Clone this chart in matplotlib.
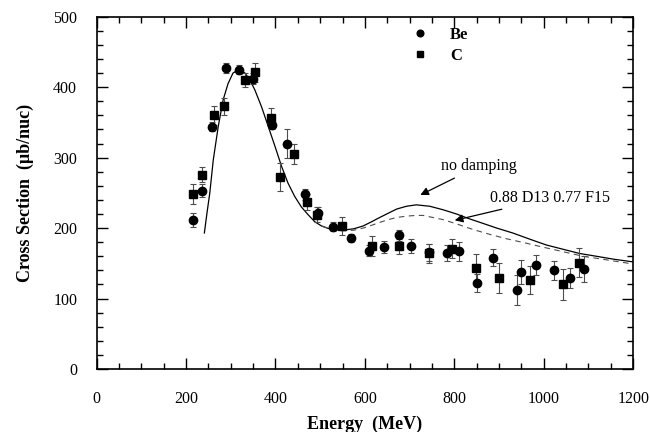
import matplotlib
matplotlib.use("Agg")
import matplotlib.pyplot as plt
from matplotlib.ticker import MultipleLocator

plt.rcParams["font.family"] = ["Liberation Serif", "DejaVu Serif"]

# Be (circles): energy, cross section, error
be_e = [215, 235, 258, 290, 319, 349, 393, 425, 466, 495, 528, 570, 609, 643,
        676, 703, 743, 784, 811, 850, 887, 941, 950, 983, 1022, 1058, 1090]
be_xs = [212, 253, 344, 427, 425, 412, 346, 320, 248, 222, 202, 186, 168, 173,
         190, 175, 166, 165, 167, 122, 158, 112, 138, 148, 140, 129, 142]
be_err = [10, 9, 6, 7, 6, 8, 6, 21, 8, 8, 6, 6, 8, 8,
          8, 10, 12, 11, 13, 13, 12, 21, 17, 14, 14, 14, 19]

# C (squares)
c_e = [215, 235, 263, 284, 333, 355, 390, 410, 441, 470, 493, 548, 617, 676,
       743, 794, 849, 900, 969, 1044, 1078]
c_xs = [248, 276, 360, 373, 410, 421, 356, 272, 305, 237, 219, 203, 175, 174,
        164, 171, 144, 129, 126, 120, 151]
c_err = [14, 11, 13, 12, 10, 14, 14, 20, 14, 11, 11, 13, 14, 11,
         13, 13, 19, 21, 20, 22, 21]

# model curves
nodamp_e = [241, 247, 253, 261, 272, 283, 294, 305, 318, 332, 343, 354, 369,
            384, 399, 414, 428, 443, 458, 473, 488, 503, 525, 550, 575, 596,
            615, 633, 652, 671, 693, 715, 730, 745, 775, 805, 830, 858, 895,
            931, 970, 1006, 1043, 1080, 1118, 1155, 1200]
nodamp_xs = [193, 222, 249, 297, 344, 382, 405, 420, 425, 420, 410, 396, 372,
             344, 316, 287, 264, 245, 230, 219, 209, 203, 198, 197, 199, 203,
             209, 215, 221, 227, 231, 233, 232, 231, 226, 220, 214, 208, 200,
             193, 184, 176, 170, 164, 160, 156, 152]

damp_e = [503, 525, 550, 575, 596, 615, 633, 652, 671, 693, 715, 730, 745,
          775, 805, 842, 880, 916, 958, 998, 1040, 1088, 1140, 1200]
damp_xs = [203, 198, 196, 197, 200, 204, 208, 212, 215, 217, 218, 218, 216,
           212, 206, 198, 191, 185, 179, 173, 167, 160, 155, 149]

fig = plt.figure(figsize=(6.5, 4.32), dpi=100)
ax = fig.add_axes([0.1486, 0.1458, 0.8255, 0.8155])

ax.plot(nodamp_e, nodamp_xs, "-", color="black", lw=0.9)
ax.plot(damp_e, damp_xs, "--", color="0.3", lw=0.8, dashes=(5, 4))

be = ax.errorbar(be_e, be_xs, yerr=be_err, fmt="o", color="black", ms=6,
                 ecolor="0.3", elinewidth=0.8, capsize=2, capthick=0.8,
                 label="Be")
c = ax.errorbar(c_e, c_xs, yerr=c_err, fmt="s", color="black", ms=5.5,
                ecolor="0.3", elinewidth=0.8, capsize=2, capthick=0.8,
                label="C")

ax.annotate("no damping", xy=(724, 247), xytext=(770, 288),
            fontsize=11.5, va="center", ha="left",
            arrowprops=dict(arrowstyle="-|>", color="black", lw=0.9,
                            mutation_scale=12, shrinkA=2, shrinkB=0))
ax.annotate("0.88 D13 0.77 F15", xy=(801, 211), xytext=(880, 243),
            fontsize=11.5, va="center", ha="left",
            arrowprops=dict(arrowstyle="-|>", color="black", lw=0.9,
                            mutation_scale=12, shrinkA=2, shrinkB=0))

# legend shows markers only, no error bars
ax.legend(handles=[be[0], c[0]], labels=["Be", "C"], loc="upper left",
          bbox_to_anchor=(0.569, 0.994), frameon=False, borderpad=0,
          handlelength=1.2, handletextpad=1.2, labelspacing=0.3,
          prop=dict(weight="bold", size=12), markerscale=0.8)

ax.set_xlim(0, 1200)
ax.set_ylim(0, 500)
ax.xaxis.set_major_locator(MultipleLocator(200))
ax.xaxis.set_minor_locator(MultipleLocator(50))
ax.yaxis.set_major_locator(MultipleLocator(100))
ax.yaxis.set_minor_locator(MultipleLocator(20))
ax.tick_params(which="both", direction="in", top=True, right=True,
               width=1.0, labelsize=11.5)
ax.tick_params(which="major", length=8)
ax.tick_params(which="minor", length=4)
ax.tick_params(axis="x", which="major", pad=16)
ax.tick_params(axis="y", which="major", pad=14)
for s in ax.spines.values():
    s.set_linewidth(1.2)

ax.set_xlabel("Energy  (MeV)", fontsize=13, fontweight="bold", labelpad=6)
ax.set_ylabel("Cross Section  (\u03bcb/nuc)", fontsize=13, fontweight="bold",
              labelpad=14)

fig.savefig("out.png", dpi=100)
